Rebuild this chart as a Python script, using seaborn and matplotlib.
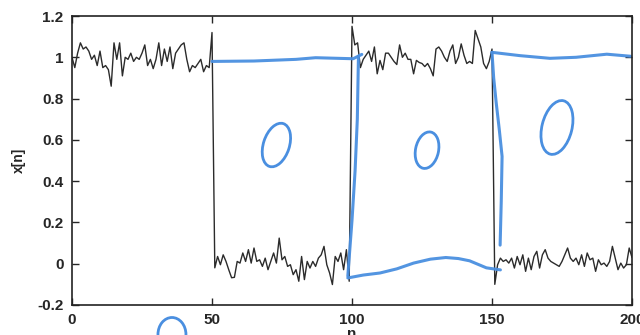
import numpy as np
import pandas as pd
import seaborn as sns
import matplotlib.pyplot as plt
from matplotlib.patches import Ellipse
from matplotlib.transforms import ScaledTranslation

# black signal x[n], n = 0..200
seg_a = [1.00, 0.95, 1.02, 1.07, 1.04, 1.05, 1.03, 0.99, 1.01, 0.96,
         1.03, 0.95, 0.96, 0.94, 0.86, 1.07, 0.99, 1.07, 0.91, 1.00,
         0.99, 1.02, 0.98, 1.00, 0.99, 1.02, 1.06, 0.96, 0.99, 0.945,
         0.99, 1.07, 0.96, 1.04, 0.98, 1.05, 0.945, 1.02, 1.04, 1.06,
         1.07, 0.99, 0.93, 0.96, 0.95, 0.97, 0.99, 0.93, 0.96, 0.95]
spike_a = [1.12]
seg_b = [-0.02, 0.035, -0.005, 0.043, 0.011, -0.03, -0.068, -0.066, 0.011, 0.003,
         0.052, 0.011, 0.068, 0.003, 0.076, 0.011, 0.019, -0.013, 0.027, -0.029,
         0.011, 0.052, 0.003, 0.124, 0.019, 0.035, -0.013, -0.005, -0.053, -0.029,
         -0.085, 0.035, -0.077, 0.011, -0.021, 0.011, -0.013, 0.027, 0.043, 0.084,
         -0.005, -0.045, -0.101, 0.035, 0.011, 0.052, -0.029, 0.068, -0.085]
seg_c = [1.15, 1.06, 1.07, 0.95, 0.99, 1.01, 1.03, 0.98, 1.05, 0.92,
         0.985, 0.94, 1.02, 1.02, 1.00, 0.98, 0.965, 1.06, 1.00, 1.02,
         0.99, 0.99, 0.92, 0.985, 0.975, 0.97, 0.955, 0.97, 0.945, 0.91,
         1.04, 1.05, 1.03, 1.00, 0.98, 1.03, 1.06, 0.97, 1.00, 1.065,
         1.01, 0.97, 0.98, 0.97, 1.13, 1.09, 1.05, 0.97, 0.945, 0.98, 1.04]
seg_d = [-0.10, -0.005, 0.027, 0.011, 0.019, 0.003, 0.027, -0.021, 0.035, -0.005,
         0.043, -0.037, 0.027, -0.029, 0.035, 0.06, -0.021, 0.043, 0.068, 0.027,
         0.011, 0.003, -0.005, -0.013, 0.011, 0.043, 0.076, 0.027, 0.011, 0.027,
         -0.005, 0.043, -0.013, 0.052, 0.019, 0.027, -0.037, 0.019, -0.005, 0.003,
         -0.013, 0.011, 0.084, 0.027, -0.029, 0.003, -0.021, -0.005, 0.076, 0.03]

# hand drawn blue strokes
top1_n = [50, 65, 80, 87, 95, 100.4, 103.5]
top1_v = [0.98, 0.982, 0.99, 0.998, 0.995, 0.993, 1.014]
drop1_n = [102.3, 101.9, 101.1, 100.0, 98.5]
drop1_v = [1.005, 0.70, 0.45, 0.21, -0.06]
low_n = [98.5, 104, 110, 116, 122, 128, 133.5, 138, 142, 148, 153]
low_v = [-0.069, -0.055, -0.045, -0.025, 0.003, 0.022, 0.03, 0.025, 0.014, -0.02, -0.03]
drop2_n = [150.0, 150.6, 151.5, 152.6, 153.6, 153.3, 152.9]
drop2_v = [1.024, 0.90, 0.78, 0.65, 0.52, 0.30, 0.09]
top2_n = [150, 160, 170.7, 180, 191, 199.5]
top2_v = [1.024, 1.008, 0.995, 1.0, 1.015, 1.005]

# little loops (centre in data, size in inches)
loop_n = [73, 126.8, 173.2, 35.7]
loop_v = [0.575, 0.55, 0.66, -0.343]
loop_w = [0.26, 0.23, 0.30, 0.28]
loop_h = [0.45, 0.37, 0.55, 0.34]
loop_tilt = [-18, -12, -14, 0]

values = seg_a + spike_a + seg_b + seg_c + seg_d
sig = pd.DataFrame({'n': np.arange(len(values)), 'x': values})

strokes = [(top1_n, top1_v), (drop1_n, drop1_v), (low_n, low_v),
           (drop2_n, drop2_v), (top2_n, top2_v)]
blue = pd.concat([pd.DataFrame({'n': sn, 'x': sv, 'stroke': i})
                  for i, (sn, sv) in enumerate(strokes)], ignore_index=True)

sns.set_style('ticks')
plt.rcParams['font.family'] = ['Liberation Sans', 'DejaVu Sans']

fig = plt.figure(figsize=(6.4, 3.35), dpi=100)
ax = fig.add_axes([0.1125, 0.0896, 0.875, 0.8626])

pen = '#4a8fe0'
sns.lineplot(data=sig, x='n', y='x', color='#2b2b2b', linewidth=1.0,
             estimator=None, sort=False, ax=ax)
sns.lineplot(data=blue, x='n', y='x', units='stroke', color=pen, linewidth=2.2,
             estimator=None, sort=False, ax=ax, alpha=0.95)

for cn, cv, w, h, t in zip(loop_n, loop_v, loop_w, loop_h, loop_tilt):
    tr = fig.dpi_scale_trans + ScaledTranslation(cn, cv, ax.transData)
    ax.add_patch(Ellipse((0, 0), w, h, angle=t, transform=tr, fill=False,
                         edgecolor=pen, linewidth=2.0, clip_on=False))

ax.set_xlim(0, 200)
ax.set_ylim(-0.2, 1.2)
ax.set_xticks([0, 50, 100, 150, 200])
ax.set_xticklabels(['0', '50', '100', '150', '200'], fontweight='bold', fontsize=11)
ax.set_yticks([-0.2, 0, 0.2, 0.4, 0.6, 0.8, 1, 1.2])
ax.set_yticklabels(['-0.2', '0', '0.2', '0.4', '0.6', '0.8', '1', '1.2'],
                   fontweight='bold', fontsize=11)
ax.tick_params(direction='in', length=5, width=1, top=True, right=True, pad=6)
for s in ax.spines.values():
    s.set_linewidth(1.2)
    s.set_color('#222222')
ax.set_xlabel('n', fontweight='bold', fontsize=11, labelpad=0)
ax.set_ylabel('x[n]', fontweight='bold', fontsize=10, labelpad=8)

fig.savefig('out.png', dpi=100)
